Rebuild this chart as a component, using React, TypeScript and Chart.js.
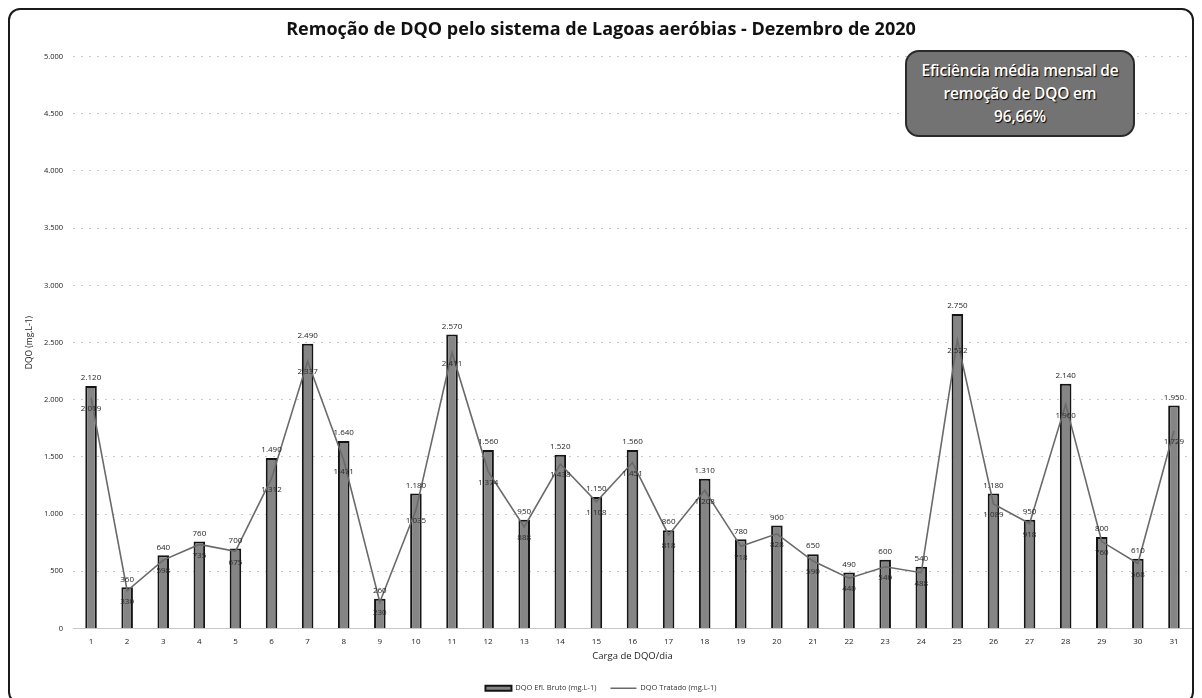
import React, { useEffect, useRef } from "react";
import { Chart, registerables } from "chart.js";

Chart.register(...registerables);

const chartTitle = "Remoção de DQO pelo sistema de Lagoas aeróbias - Dezembro de 2020";
const xAxisTitle = "Carga de DQO/dia";
const yAxisTitle = "DQO (mg.L-1)";
const seriesNames = ["DQO Efl. Bruto (mg.L-1)", "DQO Tratado (mg.L-1)"];
const noteLines = ["Eficiência média mensal de", "remoção de DQO em", "96,66%"];

const days = [
  "1", "2", "3", "4", "5", "6", "7", "8", "9", "10", "11", "12", "13", "14", "15", "16",
  "17", "18", "19", "20", "21", "22", "23", "24", "25", "26", "27", "28", "29", "30", "31",
];

const rawValues = [
  2120, 360, 640, 760, 700, 1490, 2490, 1640, 260, 1180, 2570, 1560, 950, 1520, 1150, 1560,
  860, 1310, 780, 900, 650, 490, 600, 540, 2750, 1180, 950, 2140, 800, 610, 1950,
];

const treatedValues = [
  2019, 330, 598, 735, 675, 1312, 2337, 1471, 230, 1035, 2411, 1374, 888, 1438, 1108, 1451,
  818, 1208, 718, 828, 590, 440, 540, 488, 2522, 1089, 918, 1960, 760, 568, 1729,
];

const yMin = 0;
const yMax = 5000;
const yStep = 500;

const fmt = (v: number) => String(Math.round(v)).replace(/\B(?=(\d{3})+(?!\d))/g, ".");

const labelPlugin = {
  id: "valueLabels",
  afterDatasetsDraw(chart: any) {
    const ctx = chart.ctx;
    ctx.save();
    ctx.font = "8px 'Open Sans'";
    ctx.textAlign = "center";
    ctx.textBaseline = "middle";
    ctx.fillStyle = "#1e1e1e";
    const m0 = chart.getDatasetMeta(0);
    m0.data.forEach((el: any, i: number) => {
      ctx.fillText(fmt(rawValues[i]), el.x, el.y - 8);
    });
    const m1 = chart.getDatasetMeta(1);
    ctx.fillStyle = "#2a2a2a";
    m1.data.forEach((el: any, i: number) => {
      ctx.fillText(fmt(treatedValues[i]), el.x, el.y + 11);
    });
    ctx.restore();
  },
};

export default function App() {
  const ref = useRef<HTMLCanvasElement | null>(null);

  useEffect(() => {
    if (!ref.current) return;
    const chart = new Chart(ref.current, {
      type: "bar",
      data: {
        labels: days,
        datasets: [
          {
            type: "bar",
            label: seriesNames[0],
            data: rawValues,
            backgroundColor: "#858585",
            borderColor: "#141414",
            borderWidth: 2,
            barPercentage: 0.32,
            categoryPercentage: 1,
            pointStyle: "rect",
            order: 2,
          } as any,
          {
            type: "line",
            label: seriesNames[1],
            data: treatedValues,
            borderColor: "#6a6a6a",
            backgroundColor: "#6a6a6a",
            borderWidth: 1.6,
            pointRadius: 0,
            pointStyle: "line",
            tension: 0,
            order: 1,
          } as any,
        ],
      },
      options: {
        responsive: false,
        animation: false,
        maintainAspectRatio: false,
        layout: { padding: { left: 0, right: 0, top: 0, bottom: 0 } },
        plugins: {
          title: {
            display: true,
            text: chartTitle,
            color: "#111",
            font: { family: "'Open Sans'", size: 18, weight: "bold" },
            padding: { top: 9, bottom: 16 },
          },
          legend: {
            display: true,
            position: "bottom",
            labels: {
              usePointStyle: true,
              pointStyleWidth: 26,
              boxHeight: 5,
              color: "#333",
              font: { family: "'Open Sans'", size: 7.5 },
              padding: 14,
              sort: (a: any, b: any) => a.datasetIndex - b.datasetIndex,
            },
          },
          tooltip: { enabled: false },
        },
        scales: {
          x: {
            afterFit(scale: any) {
              scale.height = 42;
            },
            grid: { display: false, drawTicks: false },
            border: { display: true, color: "#c8c8c8", dash: [2, 5] },
            ticks: {
              color: "#222",
              font: { family: "'Open Sans'", size: 8 },
              padding: 8,
            },
            title: {
              display: true,
              text: xAxisTitle,
              color: "#222",
              font: { family: "'Open Sans'", size: 9.5 },
              padding: { top: 0, bottom: 9 },
            },
          },
          y: {
            min: yMin,
            max: yMax,
            afterFit(scale: any) {
              scale.width = 63;
            },
            grid: { color: "#c9c9c9", borderDash: [2, 6], drawTicks: false } as any,
            border: { display: false, dash: [2, 6] },
            ticks: {
              stepSize: yStep,
              color: "#222",
              padding: 10,
              font: { family: "'Open Sans'", size: 7.5 },
              callback: (v: any) => fmt(Number(v)),
            },
            title: {
              display: true,
              text: yAxisTitle,
              color: "#222",
              font: { family: "'Open Sans'", size: 8.5 },
              padding: { top: 14, bottom: 0 },
            },
          },
        },
      } as any,
      plugins: [labelPlugin],
    });
    return () => chart.destroy();
  }, []);

  return (
    <div
      style={{
        position: "relative",
        width: 1186,
        height: 696,
        boxSizing: "border-box",
        border: "2px solid #1a1a1a",
        borderRadius: 12,
        background: "#fff",
        overflow: "hidden",
      }}
    >
      <canvas ref={ref} width={1182} height={692} style={{ display: "block" }} />
      <div
        style={{
          position: "absolute",
          left: 895,
          top: 40,
          width: 230,
          height: 87,
          boxSizing: "border-box",
          border: "2px solid #2a2a2a",
          borderRadius: 14,
          background: "#737373",
          color: "#fff",
          fontFamily: "'Open Sans', sans-serif",
          fontSize: 15.5,
          fontWeight: 600,
          lineHeight: "23px",
          textAlign: "center",
          display: "flex",
          flexDirection: "column",
          justifyContent: "center",
          textShadow: "1px 1px 1px #000",
          letterSpacing: -0.2,
        }}
      >
        {noteLines.map((t) => (
          <div key={t}>{t}</div>
        ))}
      </div>
    </div>
  );
}
